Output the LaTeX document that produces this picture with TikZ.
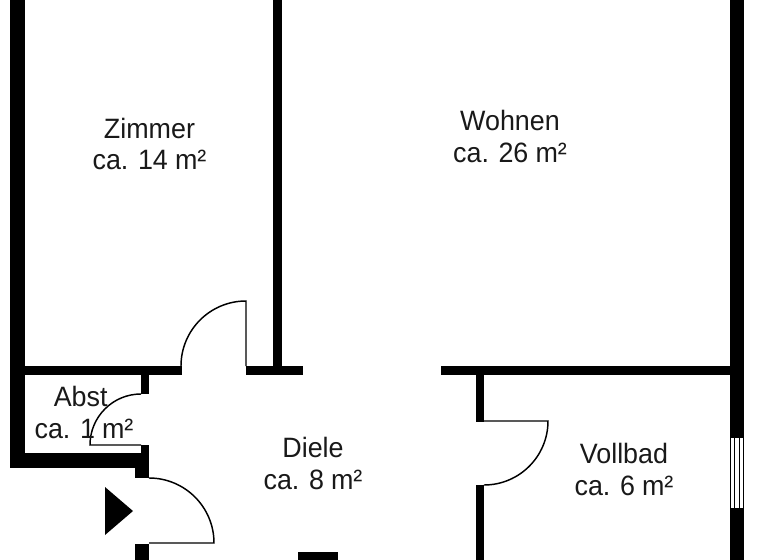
\documentclass[tikz,border=0pt]{standalone}
\usepackage{fontspec}
\setmainfont[FakeStretch=0.96,WordSpace=0.95]{Liberation Sans}
\tikzset{
  wall/.style={fill=black,draw=none},
  doorline/.style={draw=black,line width=1.1pt,fill=none},
  winline/.style={draw=black,line width=0.5pt},
  label/.style={font=\fontsize{21}{23.5}\selectfont,align=center,text=black!90,inner sep=0pt}
}
\begin{document}
\begin{tikzpicture}[x=0.75pt,y=-0.75pt]
\useasboundingbox (0,0) rectangle (768,560);
% walls
\fill[wall] (10,0) rectangle (25,468);
\fill[wall] (25,366) rectangle (182,375);
\fill[wall] (246,366) rectangle (303,375);
\fill[wall] (273,0) rectangle (282,366);
\fill[wall] (141,375) rectangle (149,394);
\fill[wall] (141,445) rectangle (149,468);
\fill[wall] (25,453) rectangle (141,468);
\fill[wall] (135,468) rectangle (149,478);
\fill[wall] (135,544) rectangle (149,560);
\fill[wall] (298,552) rectangle (338,560);
\fill[wall] (441,366) rectangle (730,375);
\fill[wall] (730,0) rectangle (744,437);
\fill[wall] (730,508) rectangle (744,560);
\fill[wall] (476,375) rectangle (484,422);
\fill[wall] (476,485) rectangle (484,560);
% window
\draw[winline] (730.5,437) rectangle (743.5,508);
\draw[winline] (734.5,437) -- (734.5,508);
\draw[winline] (739.5,437) -- (739.5,508);
% doors
\path[doorline] (246,366) -- (246,301) arc[start angle=270,end angle=180,radius=65];
\path[doorline] (141,445) -- (90,445) arc[start angle=180,end angle=270,radius=51];
\path[doorline] (149,478) arc[start angle=270,end angle=360,radius=65] -- (149,543);
\path[doorline] (484,421) -- (548,421) arc[start angle=0,end angle=90,radius=64];
% entry arrow
\fill[black] (105,487) -- (133,511) -- (105,535) -- cycle;
% labels
\node[label] (zimmer) at (149.5,144) {Zimmer\\ca. 14 m²};
\node[label] (wohnen) at (510,136.5) {Wohnen\\ca. 26 m²};
\node[label] (abst) at (84,412.5) {Abst\hspace*{5pt}\\ca. 1 m²};
\node[label] (diele) at (313,463.5) {Diele\\ca. 8 m²};
\node[label] (vollbad) at (624,469.5) {Vollbad\\ca. 6 m²};
\end{tikzpicture}
\end{document}
